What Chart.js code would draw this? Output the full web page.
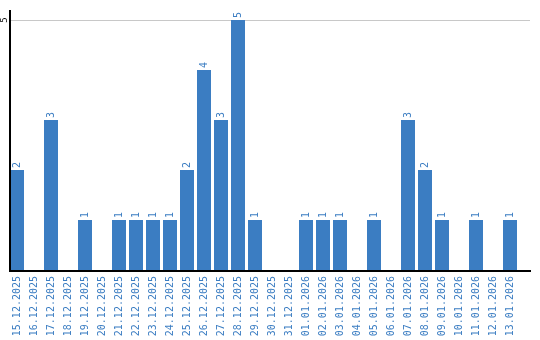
<!DOCTYPE html>
<html>
<head>
<meta charset="utf-8">
<script src="https://cdn.jsdelivr.net/npm/chart.js@4/dist/chart.umd.min.js"></script>
<style>
    body { margin: 0; background: #fff; }
    #chart { display: block; }
</style>
</head>
<body>
<canvas id="chart" width="540" height="340"></canvas>
<script>
const dates = [
    "15.12.2025", "16.12.2025", "17.12.2025", "18.12.2025", "19.12.2025", "20.12.2025",
    "21.12.2025", "22.12.2025", "23.12.2025", "24.12.2025", "25.12.2025", "26.12.2025",
    "27.12.2025", "28.12.2025", "29.12.2025", "30.12.2025", "31.12.2025", "01.01.2026",
    "02.01.2026", "03.01.2026", "04.01.2026", "05.01.2026", "06.01.2026", "07.01.2026",
    "08.01.2026", "09.01.2026", "10.01.2026", "11.01.2026", "12.01.2026", "13.01.2026"
];
const counts = [2, 0, 3, 0, 1, 0, 1, 1, 1, 1, 2, 4, 3, 5, 1, 0, 0, 1, 1, 1, 0, 1, 0, 3, 2, 1, 0, 1, 0, 1];
const yTickLabels = [5];

const blue = "#3b7dc2";
const monoFont = "DejaVu Sans Mono";

// axis lines, the single grid line, its label and the values over the bars
const extras = {
    id: "extras",
    beforeDatasetsDraw(chart) {
        const ctx = chart.ctx;
        const y = chart.scales.y;
        ctx.save();
        ctx.strokeStyle = "#c8c8c8";
        ctx.lineWidth = 1;
        yTickLabels.forEach(function(v) {
            const py = Math.round(y.getPixelForValue(v)) + 0.5;
            ctx.beginPath();
            ctx.moveTo(10, py);
            ctx.lineTo(530, py);
            ctx.stroke();
        });
        ctx.restore();
    },
    afterDatasetsDraw(chart) {
        const ctx = chart.ctx;
        const y = chart.scales.y;
        const area = chart.chartArea;
        const zero = y.getPixelForValue(0);
        ctx.save();
        ctx.strokeStyle = "#000";
        ctx.lineWidth = 2;
        ctx.beginPath();
        ctx.moveTo(10, area.top);
        ctx.lineTo(10, zero + 1);
        ctx.moveTo(9, zero + 1);
        ctx.lineTo(531, zero + 1);
        ctx.stroke();

        ctx.font = "9px '" + monoFont + "'";
        ctx.fillStyle = "#000";
        ctx.textAlign = "center";
        ctx.textBaseline = "middle";
        yTickLabels.forEach(function(v) {
            ctx.save();
            ctx.translate(5, y.getPixelForValue(v));
            ctx.rotate(-Math.PI / 2);
            ctx.fillText(String(v), 0, 0);
            ctx.restore();
        });

        ctx.font = "10px '" + monoFont + "'";
        ctx.fillStyle = blue;
        ctx.textAlign = "left";
        const meta = chart.getDatasetMeta(0);
        meta.data.forEach(function(bar, i) {
            if (!counts[i]) return;
            ctx.save();
            ctx.translate(bar.x, bar.y - 2);
            ctx.rotate(-Math.PI / 2);
            ctx.fillText(String(counts[i]), 0, 0);
            ctx.restore();
        });
        ctx.restore();
    }
};

new Chart(document.getElementById("chart"), {
    type: "bar",
    data: {
        labels: dates,
        datasets: [{
            data: counts,
            backgroundColor: blue,
            borderWidth: 0,
            categoryPercentage: 1,
            barPercentage: 14 / 17
        }]
    },
    options: {
        responsive: false,
        animation: false,
        layout: { padding: { left: 0, right: 21.5, top: 10, bottom: 0 } },
        plugins: { legend: { display: false }, tooltip: { enabled: false } },
        scales: {
            x: {
                offset: true,
                grid: { display: false, drawTicks: false },
                border: { display: false },
                ticks: {
                    autoSkip: false,
                    minRotation: 90,
                    maxRotation: 90,
                    padding: 6,
                    color: blue,
                    font: { family: monoFont, size: 10 }
                },
                afterFit(axis) { axis.height = 70; }
            },
            y: {
                min: 0,
                max: 5.2,
                grid: { display: false, drawTicks: false },
                border: { display: false },
                ticks: { display: false },
                afterFit(axis) { axis.width = 8.5; }
            }
        }
    },
    plugins: [extras]
});
</script>
</body>
</html>
